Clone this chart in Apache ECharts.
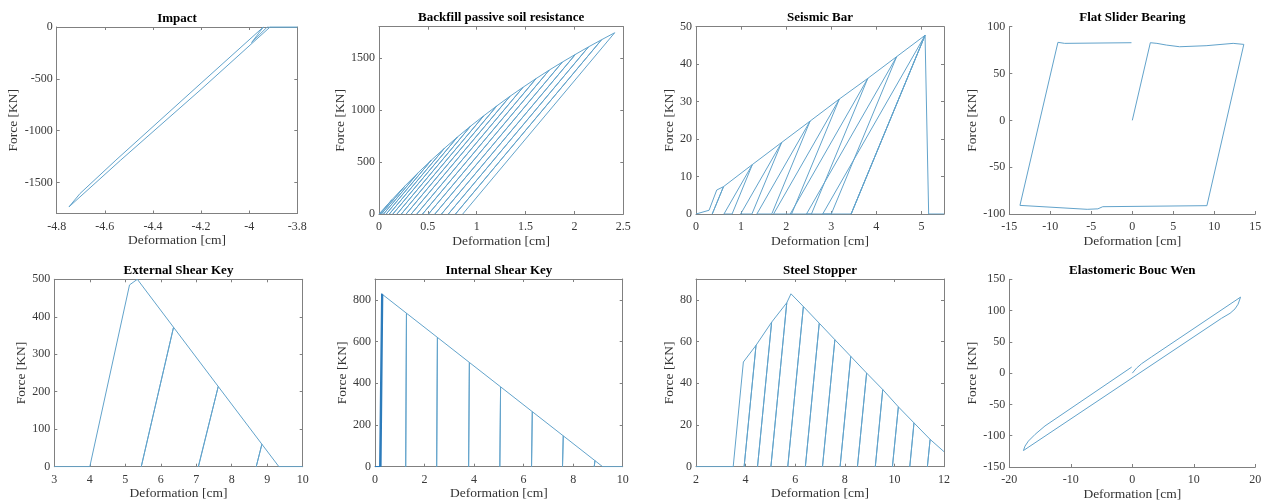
<!DOCTYPE html>
<html>
<head>
<meta charset="utf-8">
<title>Component hysteresis responses</title>
<script src="https://cdn.jsdelivr.net/npm/echarts@6/dist/echarts.min.js"></script>
<style>
  html, body { margin: 0; padding: 0; background: #ffffff; }
  #chart { width: 1266px; height: 502px; }
</style>
</head>
<body>
<div id="chart"></div>
<script>
// ---------- Impact (compression-only gap element) ----------
const impactDef   = [-3.80, -3.913, -4.20, -4.534, -4.749, -4.703, -4.554, -4.20, -3.941, -3.99, -3.925, -3.80];
const impactForce = [0, 0, -602, -1285, -1736, -1607, -1285, -542, 0, -150, 0, 0];
const impactXTicks = [-4.8, -4.6, -4.4, -4.2, -4.0, -3.8];
const impactYTicks = [-1500, -1000, -500, 0];

// ---------- Backfill passive soil resistance ----------
const backfillPeakDef   = [0.134, 0.268, 0.402, 0.536, 0.670, 0.804, 0.938, 1.072, 1.206, 1.340, 1.474, 1.608, 1.742, 1.876, 2.010, 2.144, 2.278, 2.412];
const backfillPeakForce = [139, 272, 398, 518, 632, 741, 845, 944, 1039, 1131, 1218, 1302, 1383, 1460, 1534, 1606, 1675, 1742];
const backfillResidual  = [0.010, 0.025, 0.047, 0.074, 0.106, 0.142, 0.184, 0.229, 0.278, 0.330, 0.387, 0.446, 0.507, 0.572, 0.640, 0.710, 0.783, 0.857];
const backfillXTicks = [0, 0.5, 1, 1.5, 2, 2.5];
const backfillYTicks = [0, 500, 1000, 1500];

// ---------- Seismic bar ----------
// envelope peaks, unloading end points and pinched reloading start points
const seismicStart      = [[0, 0], [0.29, 1.0], [0.46, 6.4]];
const seismicPeakDef    = [0.61, 1.25, 1.90, 2.53, 3.18, 3.81, 4.45, 5.08];
const seismicPeakForce  = [7.3, 13.2, 19.1, 24.8, 30.7, 36.2, 42.0, 47.7];
const seismicUnloadDef  = [0.36, 0.80, 1.24, 1.68, 2.12, 2.56, 3.00, 3.44];
const seismicReloadDef  = [0.33, 0.62, 0.99, 1.35, 1.72, 2.09, 2.45, 2.81];
const seismicEnd        = [[5.16, 0], [5.50, 0]];
const seismicXTicks = [0, 1, 2, 3, 4, 5];
const seismicYTicks = [0, 10, 20, 30, 40, 50];

// ---------- Flat slider bearing ----------
const sliderDef   = [0, 2.2, 3.0, 4.15, 5.77, 9.0, 12.3, 13.6, 9.1, -3.6, -4.2, -5.5, -13.7, -9.07, -8.25, -0.1];
const sliderForce = [0, 82.9, 82.2, 80.4, 78.6, 79.7, 82.2, 81.1, -91.1, -92.2, -94.5, -95.0, -90.8, 83.3, 82.2, 82.9];
const sliderXTicks = [-15, -10, -5, 0, 5, 10, 15];
const sliderYTicks = [-100, -50, 0, 50, 100];

// ---------- External shear key ----------
const extStart      = [[3, 0], [4.0, 0], [5.12, 485], [5.34, 500]];
const extPeakDef    = [6.36, 7.62, 8.85];
const extPeakForce  = [372, 214, 60];
const extUnloadDef  = [5.45, 7.06, 8.69];
const extReloadDef  = [5.49, 7.09, 8.72];
const extEnd        = [[9.33, 0], [10, 0]];
const extXTicks = [3, 4, 5, 6, 7, 8, 9, 10];
const extYTicks = [0, 100, 200, 300, 400, 500];

// ---------- Internal shear key ----------
// early elastic cycles, drawn as their own dense bundle
const intBundleDef   = [0, 0.19, 0.27, 0.21, 0.28, 0.20, 0.29, 0.22, 0.30, 0.23, 0.31, 0.24, 0.30];
const intBundleForce = [0, 0, 830, 0, 829, 0, 828, 0, 826, 0, 826, 0, 826];
const intStart      = [[0.30, 826], [0.36, 821]];
const intPeakDef    = [1.27, 2.52, 3.81, 5.07, 6.35, 7.60, 8.88];
const intPeakForce  = [736, 620, 500, 383, 264, 148, 29];
const intUnloadDef  = [1.24, 2.49, 3.78, 5.04, 6.32, 7.57, 8.85];
const intEnd        = [[9.19, 0], [10, 0]];
const intXTicks = [0, 2, 4, 6, 8, 10];
const intYTicks = [0, 200, 400, 600, 800];

// ---------- Steel stopper ----------
const stopStart      = [[2, 0], [3.50, 0], [3.91, 50.2]];
const stopPeakDef    = [4.42, 5.05, 5.66, 5.83, 6.33, 6.97, 7.60, 8.24, 8.88, 9.53, 10.16, 10.79, 11.44];
const stopPeakForce  = [58.2, 69.3, 78.6, 82.9, 76.8, 68.8, 60.9, 52.9, 44.9, 37.0, 28.7, 21.0, 13.1];
const stopUnloadDef  = [3.94, 4.48, 5.02, null, 5.70, 6.41, 7.10, 7.81, 8.51, 9.23, 9.92, 10.62, 11.33];
const stopReloadDef  = [4.00, 4.54, 5.08, null, 5.76, 6.47, 7.16, 7.87, 8.57, 9.29, 9.98, 10.68, 11.39];
const stopEnd        = [[12.0, 7.2]];
const stopXTicks = [2, 4, 6, 8, 10, 12];
const stopYTicks = [0, 20, 40, 60, 80];

// ---------- Elastomeric bearing (Bouc-Wen) ----------
const boucDef   = [0, 0.7, 1.5, 3.1, 17.6, 17.2, 16.7, 15.9, 14.5, -17.7, -17.45, -16.9, -15.8, -14.2, -0.1];
const boucForce = [0, 8.1, 15.0, 25.8, 121.5, 110.2, 102.7, 95.7, 87.6, -123.7, -116.7, -108.6, -97.8, -84.4, 9.7];
const boucXTicks = [-20, -10, 0, 10, 20];
const boucYTicks = [-150, -100, -50, 0, 50, 100, 150];

// ---------- path helpers ----------
function zipPath(xs, ys) {
  return xs.map((x, i) => [x, ys[i]]);
}
// load along the envelope to each peak, unload to zero force, reload back to the peak
function cyclicPath(start, peakDef, peakForce, unloadDef, reloadDef, end) {
  const path = start.slice();
  peakDef.forEach((x, i) => {
    const p = [x, peakForce[i]];
    path.push(p);
    if (unloadDef[i] != null) {
      path.push([unloadDef[i], 0]);
      if (reloadDef && reloadDef[i] != null) {
        path.push([reloadDef[i], 0]);
        path.push(p);
      }
    }
  });
  return path.concat(end);
}

const backfillReload = backfillResidual.slice(0, -1).concat([null]);
const backfillPath = cyclicPath([[0, 0]], backfillPeakDef, backfillPeakForce, backfillResidual, backfillReload, []);
const seismicPath = cyclicPath(seismicStart, seismicPeakDef, seismicPeakForce, seismicUnloadDef, seismicReloadDef, [])
  .concat([[seismicUnloadDef[seismicUnloadDef.length - 1], 0], [5.08, 47.7]])
  .concat(seismicEnd);
const extPath = cyclicPath(extStart, extPeakDef, extPeakForce, extUnloadDef, extReloadDef, extEnd);
const intPath = cyclicPath(intStart, intPeakDef, intPeakForce, intUnloadDef, intUnloadDef, intEnd);
const stopPath = cyclicPath(stopStart, stopPeakDef, stopPeakForce, stopUnloadDef, stopReloadDef, stopEnd);

// ---------- layout of the 2 x 4 panels ----------
const FONT = "'Liberation Serif', 'DejaVu Serif', serif";
const AXIS_COLOR = '#808080';
const LABEL_COLOR = '#383838';
const LINE_COLOR = '#62a3cb';
const DENSE_COLOR = '#2c7bbb';

const panels = [
  { title: 'Impact', grid: { left: 56.7, top: 27, width: 240.6, height: 186.5 },
    x: [-4.8, -3.8, impactXTicks], y: [-1800, 0, impactYTicks], yGap: 34, box: true,
    data: [zipPath(impactDef, impactForce)] },
  { title: 'Backfill passive soil resistance', grid: { left: 379, top: 26.7, width: 244.3, height: 187.3 },
    x: [0, 2.5, backfillXTicks], y: [0, 1800, backfillYTicks], yGap: 30, box: true,
    data: [backfillPath] },
  { title: 'Seismic Bar', grid: { left: 696, top: 26.7, width: 248, height: 187.3 },
    x: [0, 5.5, seismicXTicks], y: [0, 50, seismicYTicks], yGap: 19, box: true,
    data: [seismicPath] },
  { title: 'Flat Slider Bearing', grid: { left: 1009.3, top: 26.7, width: 246, height: 187.3 },
    x: [-15, 15, sliderXTicks], y: [-100, 100, sliderYTicks], yGap: 29, box: false,
    data: [zipPath(sliderDef, sliderForce)] },
  { title: 'External Shear Key', grid: { left: 54.3, top: 279.3, width: 248.4, height: 187.4 },
    x: [3, 10, extXTicks], y: [0, 500, extYTicks], yGap: 25, box: true,
    data: [extPath] },
  { title: 'Internal Shear Key', grid: { left: 375, top: 279, width: 247.7, height: 187.7 },
    x: [0, 10, intXTicks], y: [0, 900, intYTicks], yGap: 26, box: true,
    data: [intPath, zipPath(intBundleDef, intBundleForce)] },
  { title: 'Steel Stopper', grid: { left: 696, top: 279, width: 248, height: 187.7 },
    x: [2, 12, stopXTicks], y: [0, 90, stopYTicks], yGap: 19, box: true,
    data: [stopPath] },
  { title: 'Elastomeric Bouc Wen', grid: { left: 1009.3, top: 279.3, width: 246, height: 188 },
    x: [-20, 20, boucXTicks], y: [-150, 150, boucYTicks], yGap: 29, box: false,
    data: [zipPath(boucDef, boucForce)] }
];

const option = {
  backgroundColor: '#ffffff',
  animation: false,
  title: [], grid: [], xAxis: [], yAxis: [], series: []
};

function baseAxis(gridIndex, range, position, withLabels) {
  return {
    type: 'value', gridIndex, position,
    min: range[0], max: range[1],
    splitLine: { show: false },
    axisLine: { show: true, onZero: false, lineStyle: { color: AXIS_COLOR, width: 1 } },
    axisTick: { show: true, inside: true, length: 3, customValues: range[2],
                lineStyle: { color: AXIS_COLOR, width: 1 } },
    axisLabel: { show: withLabels, customValues: range[2], color: LABEL_COLOR,
                 fontFamily: FONT, fontSize: 12, formatter: v => String(v) }
  };
}

panels.forEach((p, gi) => {
  const g = p.grid;
  option.grid.push({ left: g.left, top: g.top, width: g.width, height: g.height, containLabel: false });
  option.title.push({
    text: p.title, left: g.left + g.width / 2, top: g.top - 15.2, padding: 0,
    textAlign: 'center',
    textStyle: { fontFamily: FONT, fontSize: 13, fontWeight: 'bold', color: '#000000' }
  });

  const xIndex = option.xAxis.length;
  const xb = baseAxis(gi, p.x, 'bottom', true);
  xb.axisLabel.margin = 7;
  xb.name = 'Deformation [cm]';
  xb.nameLocation = 'middle';
  xb.nameGap = 20;
  xb.nameTextStyle = { fontFamily: FONT, fontSize: 13.5, color: '#333333' };
  option.xAxis.push(xb);

  const yIndex = option.yAxis.length;
  const yl = baseAxis(gi, p.y, 'left', true);
  yl.axisLabel.margin = 4;
  yl.name = 'Force [KN]';
  yl.nameLocation = 'middle';
  yl.nameGap = p.yGap;
  yl.nameTextStyle = { fontFamily: FONT, fontSize: 13.5, color: '#333333' };
  option.yAxis.push(yl);

  if (p.box) {
    option.xAxis.push(baseAxis(gi, p.x, 'top', false));
    option.yAxis.push(baseAxis(gi, p.y, 'right', false));
  }

  p.data.forEach((path, k) => {
    option.series.push({
      type: 'line', xAxisIndex: xIndex, yAxisIndex: yIndex,
      data: path, showSymbol: false, symbol: 'none', clip: true,
      lineStyle: { color: k === 0 ? LINE_COLOR : DENSE_COLOR, width: k === 0 ? 1 : 1.3 },
      emphasis: { disabled: true }, silent: true
    });
  });
});

const chart = echarts.init(document.getElementById('chart'), null, { renderer: 'canvas' });
chart.setOption(option);
</script>
</body>
</html>
